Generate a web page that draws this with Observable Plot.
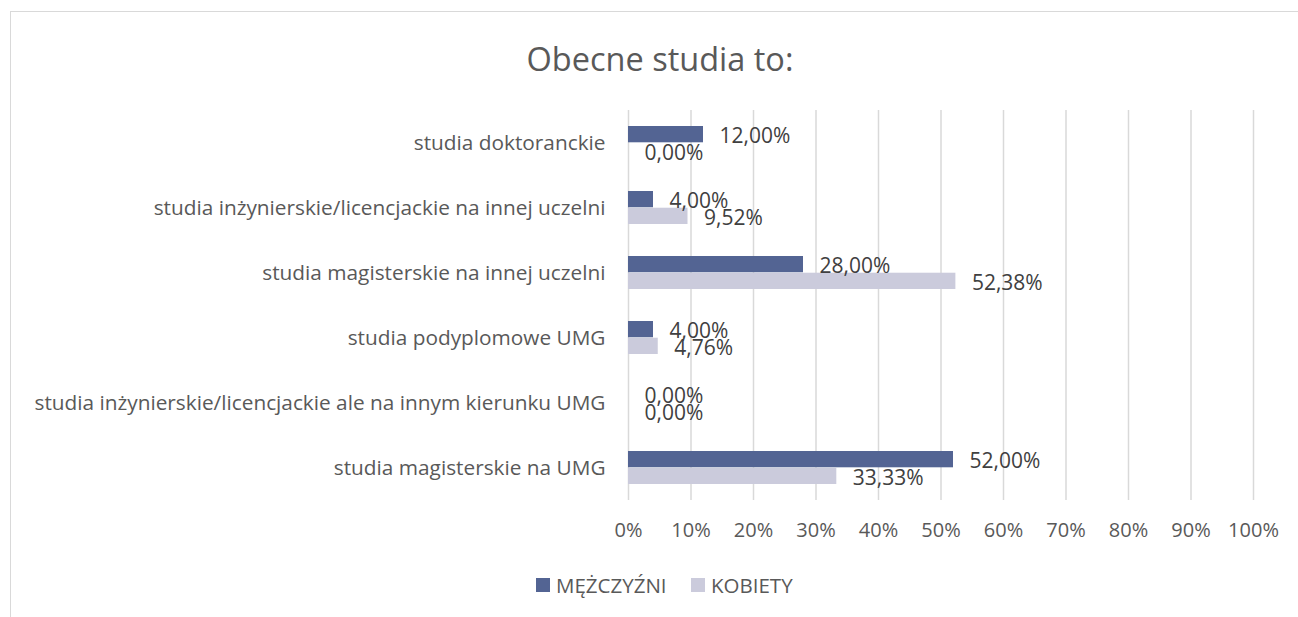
<!DOCTYPE html>
<html>
<head>
<meta charset="utf-8">
<script src="https://cdn.jsdelivr.net/npm/d3@7"></script>
<script src="https://cdn.jsdelivr.net/npm/@observablehq/plot@0.6"></script>
<style>
  html, body { margin: 0; padding: 0; background: #fff; }
  body { width: 1298px; height: 617px; overflow: hidden; position: relative; font-family: "Open Sans", sans-serif; }
  #frame { position: absolute; left: 10px; top: 11px; right: -5px; bottom: -5px; border-left: 1.5px solid #d9d9d9; border-top: 1.5px solid #d9d9d9; }
  #title { position: absolute; left: 0; width: 1320px; top: 38px; text-align: center; font-size: 32.5px; color: #595959; line-height: 42px; }
  #chart { position: absolute; left: 0; top: 95px; }
  #legend { position: absolute; top: 570px; left: 0; width: 1298px; height: 30px; font-size: 20.5px; color: #595959; }
  .sw { position: absolute; top: 8px; width: 14px; height: 14px; }
  .lt { position: absolute; top: 0; line-height: 30px; }
</style>
</head>
<body>
<div id="frame"></div>
<div id="title">Obecne studia to:</div>
<div id="chart"></div>
<div id="legend"></div>
<script>
const categories = [
  "studia doktoranckie",
  "studia inżynierskie/licencjackie na innej uczelni",
  "studia magisterskie na innej uczelni",
  "studia podyplomowe UMG",
  "studia inżynierskie/licencjackie ale na innym kierunku UMG",
  "studia magisterskie na UMG"
];
const seriesNames = ["MĘŻCZYŹNI", "KOBIETY"];
const maleValues = [12.00, 4.00, 28.00, 4.00, 0.00, 52.00];
const femaleValues = [0.00, 9.52, 52.38, 4.76, 0.00, 33.33];
const xTicks = [0, 10, 20, 30, 40, 50, 60, 70, 80, 90, 100];
const colors = ["#536493", "#cbcbdc"];

const rows = categories.map((c, i) => ({category: c, male: maleValues[i], female: femaleValues[i]}));
const fmt = v => v.toFixed(2).replace(".", ",") + "%";

const half = 65 * (1 - 0.486) / 2;

const chart = Plot.plot({
  width: 1298,
  height: 460,
  marginTop: 15,
  marginBottom: 55,
  marginLeft: 628,
  marginRight: 45,
  style: {fontFamily: "'Open Sans', sans-serif", fontSize: "20px", color: "#595959", background: "transparent"},
  x: {domain: [0, 100], label: null},
  y: {domain: categories, label: null, paddingInner: 0.486, paddingOuter: 0.243},
  marks: [
    Plot.gridX(xTicks, {stroke: "#d9d9d9", strokeOpacity: 1, strokeWidth: 1.5}),
    Plot.barX(rows, {x: "male", y: "category", fill: colors[0], insetBottom: half}),
    Plot.barX(rows, {x: "female", y: "category", fill: colors[1], insetTop: half}),
    Plot.text(rows, {x: "male", y: "category", text: d => fmt(d.male), textAnchor: "start", dx: 16, dy: -7, fill: "#404040", fontSize: 21}),
    Plot.text(rows, {x: "female", y: "category", text: d => fmt(d.female), textAnchor: "start", dx: 16, dy: 10, fill: "#404040", fontSize: 21}),
    Plot.axisX({ticks: xTicks, tickSize: 0, tickPadding: 22, tickFormat: d => d + "%", fontSize: 20}),
    Plot.axisY({tickSize: 0, tickPadding: 23, fontSize: 20.8})
  ]
});
document.getElementById("chart").appendChild(chart);

const legend = document.getElementById("legend");
const legendX = [[536, 556], [691, 711]];
seriesNames.forEach((name, i) => {
  const sw = document.createElement("div");
  sw.className = "sw";
  sw.style.left = legendX[i][0] + "px";
  sw.style.background = colors[i];
  legend.appendChild(sw);
  const t = document.createElement("div");
  t.className = "lt";
  t.style.left = legendX[i][1] + "px";
  t.textContent = name;
  legend.appendChild(t);
});
</script>
</body>
</html>
